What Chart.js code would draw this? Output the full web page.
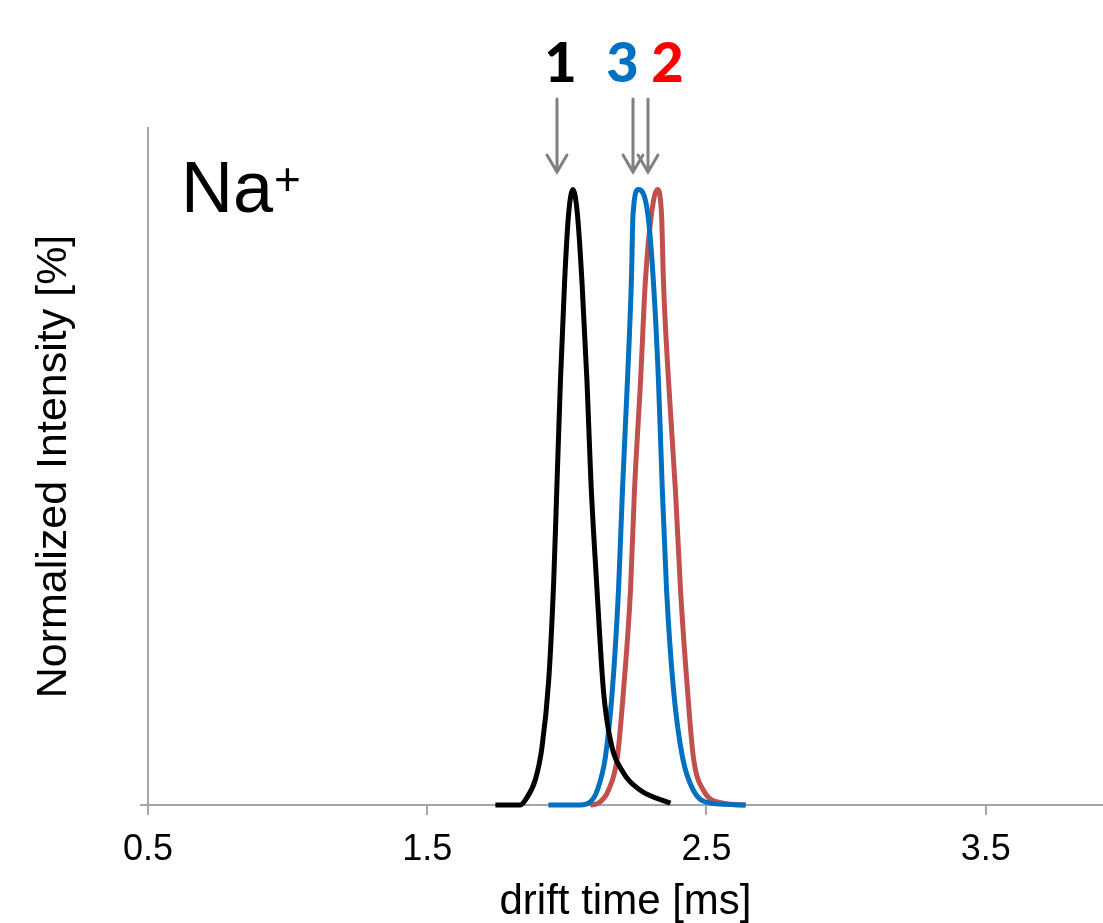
<!DOCTYPE html>
<html>
<head>
<meta charset="utf-8">
<script src="https://cdn.jsdelivr.net/npm/chart.js@4"></script>
<style>
  html, body { margin: 0; padding: 0; background: #fff; }
  #wrap { width: 1103px; height: 923px; }
</style>
</head>
<body>
<div id="wrap"><canvas id="driftChart" width="1103" height="923"></canvas></div>
<script>
// Drift time [ms] vs normalized intensity [%]
const time1 = [1.744, 1.833, 1.851, 1.887, 1.911, 1.935, 1.953, 1.965, 1.977, 1.992, 2.006, 2.022, 2.038, 2.054, 2.072, 2.086, 2.106, 2.131, 2.156, 2.203, 2.263, 2.371];
const int1  = [0, 0, 0.8, 4.1, 9.4, 20.3, 36.5, 52.7, 68.9, 85.1, 95.9, 100, 95.9, 85.1, 68.9, 52.7, 36.5, 18.6, 10.5, 5.2, 2.4, 0.3];

const time3 = [1.934, 2.048, 2.084, 2.109, 2.138, 2.163, 2.185, 2.199, 2.217, 2.231, 2.237, 2.256, 2.290, 2.310, 2.328, 2.342, 2.357, 2.382, 2.414, 2.453, 2.514, 2.640];
const int3  = [0, 0, 0.5, 2.4, 7.8, 18.7, 35, 51, 69, 85, 96, 100, 96, 85, 69, 51, 35, 18.7, 7.8, 2.4, 0.3, 0];

const time2 = [2.084, 2.113, 2.149, 2.181, 2.203, 2.228, 2.242, 2.264, 2.281, 2.303, 2.324, 2.339, 2.346, 2.364, 2.389, 2.407, 2.432, 2.453, 2.489, 2.561, 2.640];
const int2  = [0, 0.3, 2.4, 7.8, 18.7, 35, 51, 69, 85, 96, 100, 96, 85, 69, 51, 35, 18.7, 7.8, 2.4, 0.3, 0];

const xTicks = [0.5, 1.5, 2.5, 3.5];

// peak markers: label text, arrow drift time, label drift time
const markLabels = ["1", "3", "2"];
const markArrowX = [1.966, 2.238, 2.292];
const markLabelX = [1.977, 2.199, 2.360];
const markColors = ["#000000", "#0070C0", "#FF0000"];

const toPoints = (xs, ys) => xs.map((x, i) => ({ x, y: ys[i] }));

// arrows, numbers and the ion label
const annotations = {
  id: "annotations",
  afterDraw(chart) {
    const ctx = chart.ctx;
    const xs = chart.scales.x;
    const area = chart.chartArea;
    ctx.save();

    // ion label
    ctx.fillStyle = "#000";
    ctx.textBaseline = "alphabetic";
    ctx.textAlign = "left";
    ctx.font = '72px "Liberation Sans", Arial, sans-serif';
    ctx.fillText("Na", area.left + 33, 212);
    const w = ctx.measureText("Na").width;
    ctx.font = '46px "Liberation Sans", Arial, sans-serif';
    ctx.fillText("+", area.left + 34 + w, 195);

    // arrows
    ctx.strokeStyle = "#808080";
    ctx.lineWidth = 3;
    ctx.lineCap = "round";
    markArrowX.forEach(v => {
      const px = Math.round(xs.getPixelForValue(v));
      ctx.beginPath();
      ctx.moveTo(px, 99);
      ctx.lineTo(px, 172);
      ctx.moveTo(px - 10, 155);
      ctx.lineTo(px, 172);
      ctx.lineTo(px + 10, 155);
      ctx.stroke();
    });

    // numbers
    ctx.font = '900 56px Lato, "Open Sans", sans-serif';
    ctx.textAlign = "center";
    ctx.textBaseline = "alphabetic";
    markLabels.forEach((t, i) => {
      ctx.fillStyle = markColors[i];
      ctx.fillText(t, xs.getPixelForValue(markLabelX[i]), 82);
    });
    ctx.restore();
  }
};

const lineStyle = {
  pointRadius: 0,
  borderWidth: 5,
  fill: false,
  cubicInterpolationMode: "monotone",
  clip: false
};

new Chart(document.getElementById("driftChart"), {
  type: "line",
  data: {
    datasets: [
      { label: "1", data: toPoints(time1, int1), borderColor: "#000000", ...lineStyle },
      { label: "3", data: toPoints(time3, int3), borderColor: "#0070C0", ...lineStyle },
      { label: "2", data: toPoints(time2, int2), borderColor: "#C0504D", ...lineStyle }
    ]
  },
  options: {
    responsive: false,
    animation: false,
    layout: { padding: { top: 128, right: 0, bottom: 0, left: 0 } },
    plugins: { legend: { display: false }, tooltip: { enabled: false } },
    scales: {
      x: {
        type: "linear",
        min: 0.5,
        max: 3.92,
        afterBuildTicks: s => { s.ticks = xTicks.map(v => ({ value: v })); },
        afterFit: s => { s.height = 118; },
        grid: { drawOnChartArea: false, drawTicks: true, tickLength: 10, color: "#a6a6a6", lineWidth: 2 },
        border: { display: true, color: "#a6a6a6", width: 2 },
        ticks: {
          color: "#000",
          padding: 13,
          maxRotation: 0,
          font: { family: '"Liberation Sans", Arial, sans-serif', size: 36 },
          callback: v => Number(v).toFixed(1)
        },
        title: {
          display: true,
          text: "drift time [ms]",
          color: "#000",
          padding: 0,
          font: { family: '"Liberation Sans", Arial, sans-serif', size: 42, lineHeight: 1 }
        }
      },
      y: {
        min: 0,
        max: 110,
        afterBuildTicks: s => { s.ticks = [{ value: 0 }]; },
        afterFit: s => { s.width = 148; },
        grid: { drawOnChartArea: false, drawTicks: true, tickLength: 8, color: "#a6a6a6", lineWidth: 2 },
        border: { display: true, color: "#a6a6a6", width: 2 },
        ticks: { display: false },
        title: {
          display: true,
          text: "Normalized Intensity [%]",
          color: "#000",
          padding: { top: 33, bottom: 0 },
          font: { family: '"Liberation Sans", Arial, sans-serif', size: 43, lineHeight: 1 }
        }
      }
    }
  },
  plugins: [annotations]
});
</script>
</body>
</html>
